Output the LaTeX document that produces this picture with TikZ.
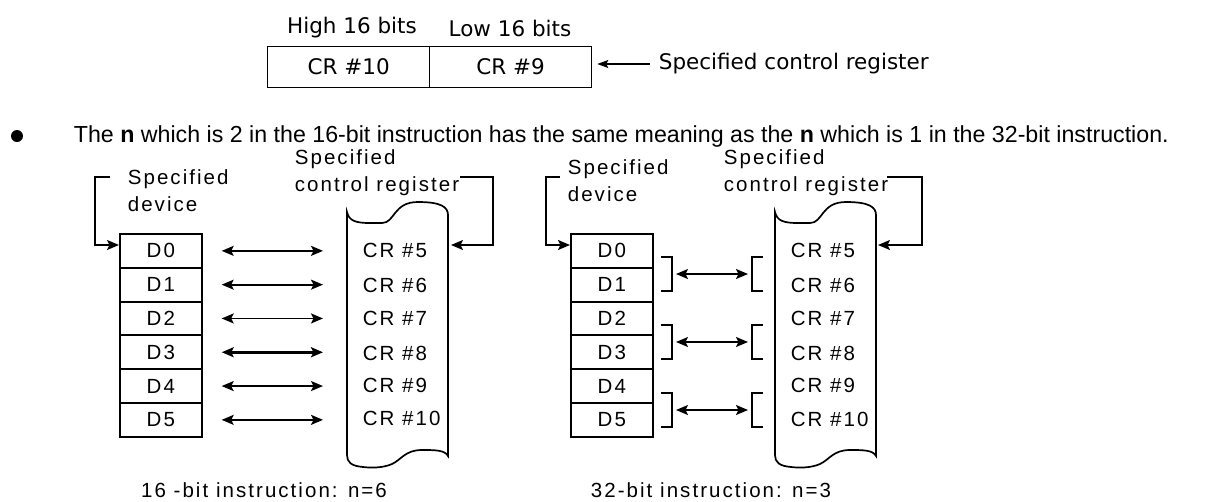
\documentclass[tikz,border=0pt]{standalone}
\usepackage{fontspec}
\setmainfont{Liberation Sans}
\newfontfamily\spc[LetterSpace=10]{Liberation Sans}
\newfontfamily\topf{DejaVu Sans}
\usetikzlibrary{arrows.meta,calc}
\begin{document}
\begin{tikzpicture}[x=1pt,y=-1pt,line width=1.7pt,
  dtxt/.style={font=\spc\fontsize{20.5}{27}\selectfont,inner sep=0pt},
  dbox/.style={draw,minimum width=82pt,minimum height=34pt,inner sep=0pt,anchor=north west,font=\spc\fontsize{20.5}{24}\selectfont},
  tbox/.style={draw,line width=1.3pt,minimum width=162pt,minimum height=41pt,inner sep=0pt,anchor=north west,font=\topf\fontsize{21.5}{24}\selectfont},
  ttxt/.style={font=\topf\fontsize{21.5}{24}\selectfont,inner sep=0pt},
  tip/.style={-{Stealth[length=12pt,width=10pt,inset=2.5pt]}},
  dtip/.style={{Stealth[length=12pt,width=10pt,inset=2.5pt]}-{Stealth[length=12pt,width=10pt,inset=2.5pt]}},
  brk/.style={line width=1.7pt},
  scrollshape/.style={draw,line width=1.7pt}
]
\useasboundingbox (0,0) rectangle (1206,501);

% ---------- top section ----------
\node[tbox] (hi) at (267,46) {CR \#10};
\node[tbox] (lo) at (429,46) {CR \#9};
\node[ttxt] (hil) at (352,28) {High 16 bits};
\node[ttxt] (lol) at (510,28) {Low 16 bits};
\node[ttxt,anchor=west] (spc) at (658,64) {Specified control register};
\draw[line width=1.2pt,-{Stealth[length=11pt,width=8pt,inset=2pt]},shorten <=8pt,shorten >=5pt] (spc.west) -- (spc.west -| lo.east);

% ---------- bullet sentence ----------
\node[circle,fill,minimum size=12pt,inner sep=0pt] (bul) at (17,136) {};
\node[anchor=west,inner sep=0pt,font=\fontsize{23.2}{28}\selectfont] (sent) at (73,136)
  {The \textbf{n} which is 2 in the 16-bit instruction has the same meaning as the \textbf{n} which is 1 in the 32-bit instruction.};

% ---------- left diagram ----------
\foreach \i in {0,...,5}{
  \node[dbox] (L\i) at (119,{233+33.8*\i}) {D\i};
}
\foreach \i/\y in {0/250,1/285,2/318,3/353,4/385,5/418}{
  \pgfmathtruncatemacro{\n}{\i+5}
  \node[dtxt,anchor=west] (LC\i) at (362,\y) {CR \#\n};
}
\foreach \i in {0,1,2,4,5}{
  \draw[dtip,shorten <=19pt,shorten >=39pt] (L\i.east) -- (L\i.east -| LC\i.west);
}
\draw[dtip,line width=2.8pt,shorten <=19pt,shorten >=39pt] (L3.east) -- (L3.east -| LC3.west);

% scroll (left)
\begin{scope}[shift={(347,0)}]
\draw[scrollshape] (0,212) .. controls (2,221) and (9,223) .. (23,223) -- (35,223)
  .. controls (48,223) and (46,202) .. (71,202) .. controls (94,202) and (101,207) .. (101,215)
  -- (101,456) .. controls (98,450) and (88,450) .. (75,450)
  .. controls (58,450) and (54,460) .. (45,464) .. controls (36,468) and (24,468) .. (16,467)
  .. controls (4,466) and (0,462) .. (0,455) -- cycle;
\end{scope}

\node[dtxt,align=left,anchor=west] (ldev) at (127,191) {Specified\\device};
\node[dtxt,align=left,anchor=west] (lcr) at (294,173) {Specified\\control register};
\coordinate (la1) at (110,177);
\coordinate (la2) at (95,177);
\coordinate (la3) at (95,245);
\coordinate (la4) at (119,245);
\draw[tip] (la1) -- (la2) -- (la3) -- (la4);
\coordinate (lb1) at (460,177);
\coordinate (lb2) at (493,177);
\coordinate (lb3) at (493,245);
\coordinate (lb4) at (451,245);
\draw[tip] (lb1) -- (lb2) -- (lb3) -- (lb4);

\node[dtxt] (lcap) at (264,490) {16 -bit instruction: n=6};

% ---------- right diagram ----------
\foreach \i in {0,...,5}{
  \node[dbox] (R\i) at (570,{233+33.8*\i}) {D\i};
}
\foreach \i/\y in {0/250,1/285,2/318,3/353,4/385,5/419}{
  \pgfmathtruncatemacro{\n}{\i+5}
  \node[dtxt,anchor=west] (RC\i) at (790,\y) {CR \#\n};
}
\foreach \k/\t in {0/257,1/325,2/393}{
  \draw[brk] (661,\t) -- (672,\t) -- (672,{\t+34}) -- (661,{\t+34});
  \draw[brk] (763,\t) -- (752,\t) -- (752,{\t+34}) -- (763,{\t+34});
  \coordinate (ra\k) at (676,{\t+17});
  \coordinate (rb\k) at (748,{\t+17});
  \draw[dtip] (ra\k) -- (rb\k);
}

\begin{scope}[shift={(775,0)}]
\draw[scrollshape] (0,212) .. controls (2,221) and (9,223) .. (23,223) -- (35,223)
  .. controls (48,223) and (46,202) .. (71,202) .. controls (94,202) and (101,207) .. (101,215)
  -- (101,456) .. controls (98,450) and (88,450) .. (75,450)
  .. controls (58,450) and (54,460) .. (45,464) .. controls (36,468) and (24,468) .. (16,467)
  .. controls (4,466) and (0,462) .. (0,455) -- cycle;
\end{scope}

\node[dtxt,align=left,anchor=west] (rdev) at (567,181) {Specified\\device};
\node[dtxt,align=left,anchor=west] (rcr) at (723,173) {Specified\\control register};
\coordinate (rA1) at (560,177);
\coordinate (rA2) at (546,177);
\coordinate (rA3) at (546,245);
\coordinate (rA4) at (570,245);
\draw[tip] (rA1) -- (rA2) -- (rA3) -- (rA4);
\coordinate (rB1) at (887,177);
\coordinate (rB2) at (922,177);
\coordinate (rB3) at (922,245);
\coordinate (rB4) at (878,245);
\draw[tip] (rB1) -- (rB2) -- (rB3) -- (rB4);

\node[dtxt] (rcap) at (711,490) {32-bit instruction: n=3};
\end{tikzpicture}
\end{document}
